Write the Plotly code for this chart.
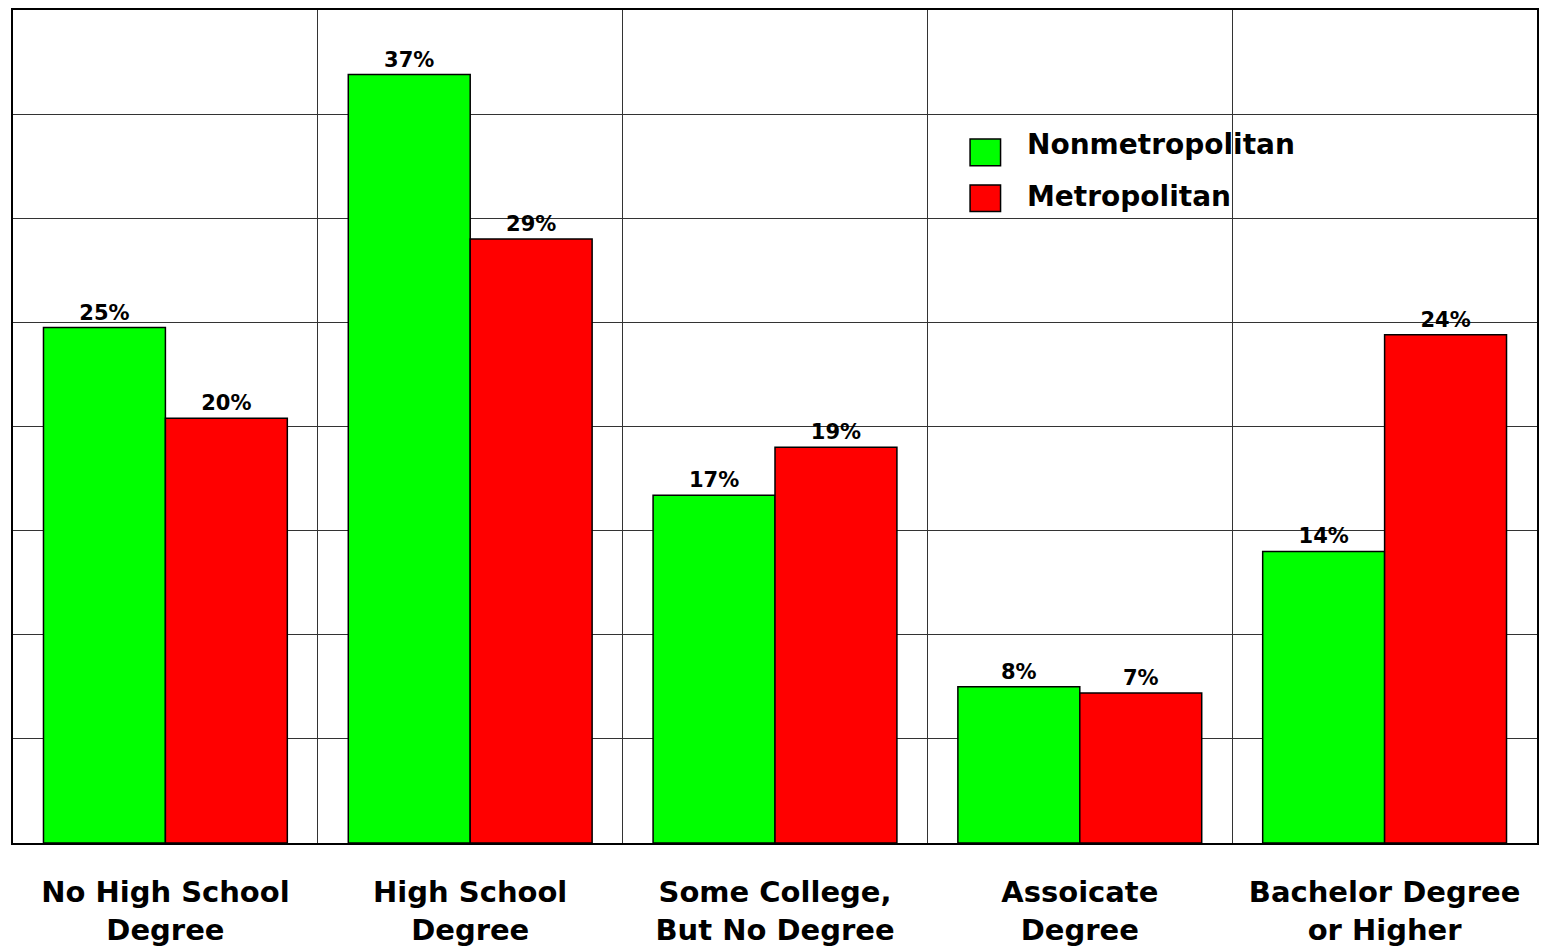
import plotly.graph_objects as go

categories = [
    "No High School<br>Degree",
    "High School<br>Degree",
    "Some College,<br>But No Degree",
    "Assoicate<br>Degree",
    "Bachelor Degree<br>or Higher",
]
nonmetro = [24.75, 36.9, 16.7, 7.5, 14.0]
metro = [20.4, 29.0, 19.0, 7.2, 24.4]
nonmetro_labels = ["25%", "37%", "17%", "8%", "14%"]
metro_labels = ["20%", "29%", "19%", "7%", "24%"]

GREEN = "#00FF00"
RED = "#FF0000"
FONT = "DejaVu Sans"

fig = go.Figure()
for name, vals, labels, color in [
    ("Nonmetropolitan", nonmetro, nonmetro_labels, GREEN),
    ("Metropolitan", metro, metro_labels, RED),
]:
    fig.add_trace(go.Bar(
        x=categories, y=vals, name=name, text=labels,
        textposition="outside", cliponaxis=False,
        textfont=dict(family=FONT, size=21, color="black", weight="bold"),
        marker=dict(color=color, line=dict(color="black", width=1.5)),
        showlegend=False,
    ))

# legend drawn by hand so the swatches can be large
legend_rows = [("Nonmetropolitan", GREEN, 0.813, 0.838), ("Metropolitan", RED, 0.758, 0.776)]
for name, color, y0, ytext in legend_rows:
    fig.add_shape(type="rect", xref="paper", yref="paper",
                  x0=0.628, x1=0.648, y0=y0, y1=y0 + 0.032,
                  fillcolor=color, line=dict(color="black", width=1.5))
    fig.add_annotation(xref="paper", yref="paper", x=0.664, y=ytext,
                       text=name, showarrow=False, xanchor="left", yanchor="middle",
                       font=dict(family=FONT, size=28, color="black", weight="bold"))

fig.update_layout(
    width=1557, height=949,
    margin=dict(l=5, r=28, t=0, b=114),
    paper_bgcolor="white", plot_bgcolor="white",
    barmode="group", bargap=0.2, bargroupgap=0,
    font=dict(family=FONT, color="black"),
    xaxis=dict(
        type="category", tickson="boundaries",
        showgrid=True, gridcolor="#333333", gridwidth=1,
        showline=True, linecolor="black", linewidth=2, mirror=True,
        ticks="", ticklabelstandoff=22,
        tickfont=dict(family=FONT, size=29, color="black", weight="bold"),
    ),
    yaxis=dict(
        range=[0, 40], dtick=5, showticklabels=False, ticks="",
        showgrid=True, gridcolor="#333333", gridwidth=1,
        showline=True, linecolor="black", linewidth=2, mirror=True,
        zeroline=False,
    ),
)

fig.write_html("out.html")
